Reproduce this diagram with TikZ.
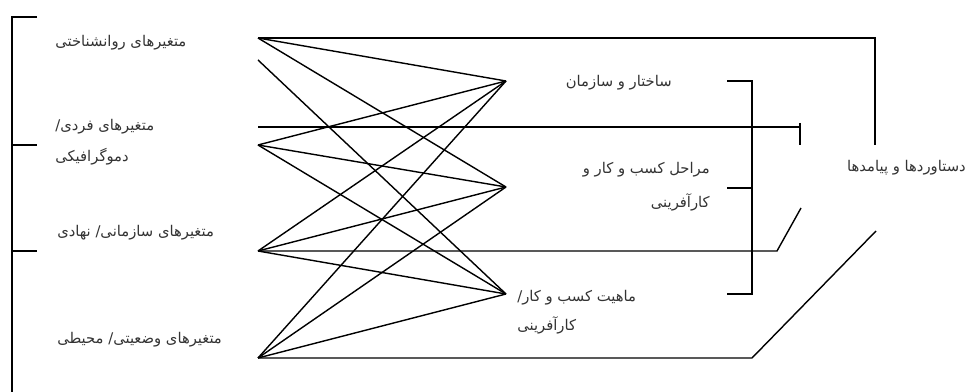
\documentclass[tikz,border=0pt]{standalone}
\usepackage{fontspec}
\newfontfamily\persianfont[Script=Arabic]{DejaVu Sans}
\TeXXeTstate=1
\usepackage{tikz}
\newcommand{\fa}[1]{\persianfont\beginR #1\endR}

\begin{document}
\begin{tikzpicture}[x=0.025cm, y=-0.025cm,
  lbl/.style={font=\fontsize{10.5}{12}\selectfont, inner sep=0pt, text=black!80},
  link/.style={line width=1pt, black},
]
  \useasboundingbox (0,0) rectangle (968,392);

  \node[lbl, anchor=west] (psyLbl) at (55,43) {\fa{متغیرهای روانشناختی}};
  \node[lbl, anchor=west] (indLbl) at (55,127) {\fa{متغیرهای فردی/}};
  \node[lbl, anchor=west] (demLbl) at (55,157) {\fa{دموگرافیکی}};
  \node[lbl, anchor=west] (orgLbl) at (57,233) {\fa{متغیرهای سازمانی/ نهادی}};
  \node[lbl, anchor=west] (envLbl) at (57,340) {\fa{متغیرهای وضعیتی/ محیطی}};

  \node[lbl, anchor=east] (strLbl) at (672,83) {\fa{ساختار و سازمان}};
  \node[lbl, anchor=east] (stgLbl) at (710,170) {\fa{مراحل کسب و کار و}};
  \node[lbl, anchor=east] (entLbl) at (710,202) {\fa{کارآفرینی}};
  \node[lbl, anchor=west] (natLbl) at (517,298) {\fa{ماهیت کسب و کار/}};
  \node[lbl, anchor=west] (ntaLbl) at (517,325) {\fa{کارآفرینی}};

  \node[lbl, anchor=east] (outLbl) at (966,168) {\fa{دستاوردها و پیامدها}};

  \coordinate (psy) at (258,38);
  \coordinate (psy2) at (258,60);
  \coordinate (ind0) at (258,127);
  \coordinate (ind) at (258,145);
  \coordinate (org) at (258,251);
  \coordinate (env) at (258,358);
  \coordinate (str) at (506,81);
  \coordinate (stg) at (506,187);
  \coordinate (nat) at (506,294);

  \draw[link] (37,17) -| (12,392);
  \draw[link] (12,145) -- (37,145);
  \draw[link] (12,251) -- (37,251);

  \draw[link] (727,81) -| (752,294) -- (727,294);
  \draw[link] (727,188) -- (752,188);

  \draw[link] (psy) -- (str);
  \draw[link] (psy) -- (stg);
  \draw[link] (psy2) -- (nat);
  \foreach \src in {ind, org, env}
    \foreach \dst in {str, stg, nat}
      \draw[link] (\src) -- (\dst);

  \draw[link] (psy) -- (875,38) -- (875,145);
  \draw[link] (ind0) -- (800,127);
  \draw[link] (800,123) -- (800,145);
  \draw[link] (org) -- (777,251) -- (801,208);
  \draw[link] (env) -- (752,358) -- (876,231);
\end{tikzpicture}
\end{document}
